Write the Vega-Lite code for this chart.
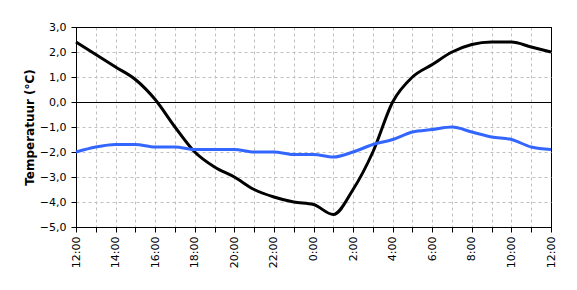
{
  "$schema": "https://vega.github.io/schema/vega-lite/v6.json",
  "width": 475,
  "height": 200,
  "autosize": {"type": "none"},
  "padding": {"left": 76, "top": 27, "right": 26, "bottom": 63},
  "background": "white",
  "config": {
    "font": "DejaVu Sans",
    "view": {"stroke": "black", "strokeWidth": 1},
    "axis": {
      "domainColor": "black",
      "tickColor": "black",
      "labelColor": "black",
      "labelFontSize": 11,
      "gridWidth": 1,
      "tickSize": 5,
      "labelOverlap": false
    }
  },
  "data": {
    "values": [
      {"h": 0, "s": "zwart", "t": 2.4}, {"h": 1, "s": "zwart", "t": 1.9}, {"h": 2, "s": "zwart", "t": 1.4},
      {"h": 3, "s": "zwart", "t": 0.9}, {"h": 4, "s": "zwart", "t": 0.1}, {"h": 5, "s": "zwart", "t": -1.0},
      {"h": 6, "s": "zwart", "t": -2.0}, {"h": 7, "s": "zwart", "t": -2.6}, {"h": 8, "s": "zwart", "t": -3.0},
      {"h": 9, "s": "zwart", "t": -3.5}, {"h": 10, "s": "zwart", "t": -3.8}, {"h": 11, "s": "zwart", "t": -4.0},
      {"h": 12, "s": "zwart", "t": -4.1}, {"h": 13, "s": "zwart", "t": -4.5}, {"h": 14, "s": "zwart", "t": -3.5},
      {"h": 15, "s": "zwart", "t": -2.0}, {"h": 16, "s": "zwart", "t": 0.0}, {"h": 17, "s": "zwart", "t": 1.0},
      {"h": 18, "s": "zwart", "t": 1.5}, {"h": 19, "s": "zwart", "t": 2.0}, {"h": 20, "s": "zwart", "t": 2.3},
      {"h": 21, "s": "zwart", "t": 2.4}, {"h": 22, "s": "zwart", "t": 2.4}, {"h": 23, "s": "zwart", "t": 2.2},
      {"h": 24, "s": "zwart", "t": 2.0},
      {"h": 0, "s": "blauw", "t": -2.0}, {"h": 1, "s": "blauw", "t": -1.8}, {"h": 2, "s": "blauw", "t": -1.7},
      {"h": 3, "s": "blauw", "t": -1.7}, {"h": 4, "s": "blauw", "t": -1.8}, {"h": 5, "s": "blauw", "t": -1.8},
      {"h": 6, "s": "blauw", "t": -1.9}, {"h": 7, "s": "blauw", "t": -1.9}, {"h": 8, "s": "blauw", "t": -1.9},
      {"h": 9, "s": "blauw", "t": -2.0}, {"h": 10, "s": "blauw", "t": -2.0}, {"h": 11, "s": "blauw", "t": -2.1},
      {"h": 12, "s": "blauw", "t": -2.1}, {"h": 13, "s": "blauw", "t": -2.2}, {"h": 14, "s": "blauw", "t": -2.0},
      {"h": 15, "s": "blauw", "t": -1.7}, {"h": 16, "s": "blauw", "t": -1.5}, {"h": 17, "s": "blauw", "t": -1.2},
      {"h": 18, "s": "blauw", "t": -1.1}, {"h": 19, "s": "blauw", "t": -1.0}, {"h": 20, "s": "blauw", "t": -1.2},
      {"h": 21, "s": "blauw", "t": -1.4}, {"h": 22, "s": "blauw", "t": -1.5}, {"h": 23, "s": "blauw", "t": -1.8},
      {"h": 24, "s": "blauw", "t": -1.9}
    ]
  },
  "layer": [
    {
      "mark": {"type": "line", "strokeWidth": 3, "interpolate": "monotone"},
      "encoding": {
        "x": {
          "field": "h", "type": "quantitative",
          "scale": {"domain": [0, 24], "nice": false},
          "axis": {
            "title": null,
            "values": [0,1,2,3,4,5,6,7,8,9,10,11,12,13,14,15,16,17,18,19,20,21,22,23,24],
            "labelAngle": -90,
            "labelAlign": "right",
            "labelBaseline": "middle",
            "labelPadding": 4,
            "labelOverlap": false,
            "gridColor": {"condition": {"test": "datum.value == 24 || datum.value == 0", "value": "black"}, "value": "#c0c0c0"},
            "gridDash": {"condition": {"test": "datum.value == 24 || datum.value == 0", "value": []}, "value": [3, 3]},
            "labelExpr": "datum.value % 2 == 0 ? ((datum.value + 12) % 24) + ':00' : ''"
          }
        },
        "y": {
          "field": "t", "type": "quantitative",
          "scale": {"domain": [-5, 3], "nice": false},
          "axis": {
            "title": "Temperatuur (°C)",
            "titleFontSize": 12,
            "titleFontWeight": "bold",
            "titlePadding": 3,
            "values": [-5, -4, -3, -2, -1, 0, 1, 2, 3],
            "labelPadding": 5,
            "labelOverlap": false,
            "gridColor": {"condition": {"test": "datum.value == 3 || datum.value == -5 || datum.value == 0", "value": "black"}, "value": "#c0c0c0"},
            "gridDash": {"condition": {"test": "datum.value == 3 || datum.value == -5 || datum.value == 0", "value": []}, "value": [3, 3]},
            "labelExpr": "replace(format(datum.value, '.1f'), '.', ',')"
          }
        },
        "color": {
          "field": "s", "type": "nominal",
          "scale": {"domain": ["zwart", "blauw"], "range": ["#000000", "#3366FF"]},
          "legend": null
        },
        "order": {"field": "h", "type": "quantitative"}
      }
    }
  ]
}
